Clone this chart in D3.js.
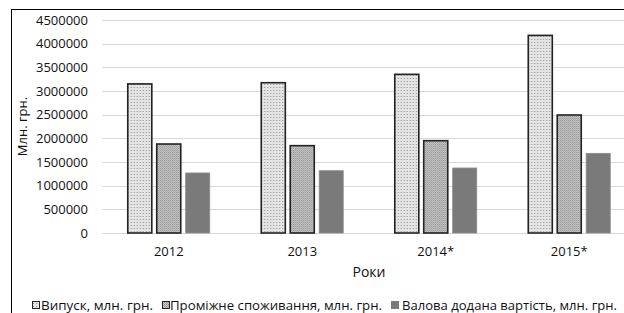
<!DOCTYPE html>
<html>
<head>
<meta charset="utf-8">
<script src="https://cdn.jsdelivr.net/npm/d3@7"></script>
<style>
body { margin:0; background:#fff; overflow:hidden; }
svg { display:block; font-family:"Open Sans", sans-serif; }
</style>
</head>
<body>
<div id="chart"></div>
<script>
// випуск, проміжне споживання, ВДВ по роках

const years = ["2012", "2013", "2014*", "2015*"]
const vypusk = [3150000, 3175000, 3352000, 4175000]
const promizhne = [1880000, 1845000, 1950000, 2493000]
const valova = [1268000, 1316000, 1373000, 1683000]
const seriesNames = ["Випуск, млн. грн.", "Проміжне споживання, млн. грн.", "Валова додана вартість, млн. грн."]
const yTicks = [0, 500000, 1000000, 1500000, 2000000, 2500000, 3000000, 3500000, 4000000, 4500000]

const W = 624, H = 313
const plotL = 102, plotR = 636, plotT = 20, plotB = 233

const svg = d3.select("#chart").append("svg")
    .attr("width", W)
    .attr("height", H)

// fill patterns
const defs = svg.append("defs")
const p1 = defs.append("pattern").attr("id", "pat1")
    .attr("width", 3).attr("height", 3).attr("patternUnits", "userSpaceOnUse")
p1.append("rect").attr("width", 3).attr("height", 3).attr("fill", "#e4e4e4")
p1.append("rect").attr("width", 1).attr("height", 1).attr("fill", "#8c8c8c")
const p2 = defs.append("pattern").attr("id", "pat2")
    .attr("width", 2).attr("height", 2).attr("patternUnits", "userSpaceOnUse")
p2.append("rect").attr("width", 2).attr("height", 2).attr("fill", "#cfcfcf")
p2.append("rect").attr("width", 1).attr("height", 1).attr("fill", "#8a8a8a")
p2.append("rect").attr("x", 1).attr("y", 1).attr("width", 1).attr("height", 1).attr("fill", "#a0a0a0")

const fills = ["url(#pat1)", "url(#pat2)", "#7a7a7a"]
const strokes = ["#222", "#222", "#8a8a8a"]

// outer border
svg.append("rect")
    .attr("x", 11.5).attr("y", 9.5)
    .attr("width", 700).attr("height", 400)
    .attr("fill", "none").attr("stroke", "#000").attr("stroke-width", 1)

const y = d3.scaleLinear().domain([0, 4500000]).range([plotB, plotT])
const x0 = d3.scaleBand().domain(years).range([plotL, plotR]).paddingInner(0.386).paddingOuter(0.193)
const x1 = d3.scaleBand().domain([0, 1, 2]).range([0, x0.bandwidth()]).paddingInner(0.17)

// grid
svg.append("g").selectAll("line").data(yTicks).join("line")
    .attr("x1", plotL).attr("x2", plotR)
    .attr("y1", d => Math.round(y(d)) + 0.5).attr("y2", d => Math.round(y(d)) + 0.5)
    .attr("stroke", "#d9d9d9").attr("stroke-width", 1.2)

// y labels
svg.append("g").selectAll("text").data(yTicks).join("text")
    .attr("x", 88).attr("y", d => y(d))
    .attr("dy", "0.35em")
    .attr("text-anchor", "end")
    .attr("font-size", 13)
    .attr("fill", "#111")
    .text(d => d)

const table = years.map((yr, i) => ({year: yr, vals: [vypusk[i], promizhne[i], valova[i]]}))

const groups = svg.append("g").selectAll("g").data(table).join("g")
    .attr("transform", d => "translate(" + x0(d.year) + ",0)")

groups.selectAll("rect").data(d => d.vals).join("rect")
    .attr("x", (d, i) => x1(i))
    .attr("y", d => y(d))
    .attr("width", x1.bandwidth())
    .attr("height", d => y(0) - y(d))
    .attr("fill", (d, i) => fills[i])
    .attr("stroke", (d, i) => strokes[i])
    .attr("stroke-width", (d, i) => i < 2 ? 1.6 : 0.8)

// category labels
svg.append("g").selectAll("text").data(years).join("text")
    .attr("x", d => x0(d) + x0.bandwidth() / 2)
    .attr("y", 256)
    .attr("text-anchor", "middle")
    .attr("font-size", 13)
    .attr("fill", "#111")
    .text(d => d)

svg.append("text")
    .attr("x", (plotL + plotR) / 2).attr("y", 277)
    .attr("text-anchor", "middle")
    .attr("font-size", 14)
    .attr("fill", "#111")
    .text("Роки")

svg.append("text")
    .attr("transform", "translate(27," + (plotT + plotB) / 2 + ") rotate(-90)")
    .attr("text-anchor", "middle")
    .attr("font-size", 13)
    .attr("fill", "#111")
    .text("Млн. грн.")

// legend
const legX = [32, 162, 391]
const legText = [41, 170, 402]
const legLen = [112, 212, 215]
const leg = svg.append("g")
seriesNames.forEach((name, i) => {
    leg.append("rect")
        .attr("x", legX[i] + 0.5).attr("y", 301.5)
        .attr("width", 7).attr("height", 7)
        .attr("fill", fills[i])
        .attr("stroke", i < 2 ? "#222" : "#7a7a7a")
        .attr("stroke-width", 1)
    leg.append("text")
        .attr("x", legText[i]).attr("y", 309.5)
        .attr("font-size", 12.5)
        .attr("fill", "#111")
        .attr("textLength", legLen[i])
        .attr("lengthAdjust", "spacingAndGlyphs")
        .text(name)
})
</script>
</body>
</html>
